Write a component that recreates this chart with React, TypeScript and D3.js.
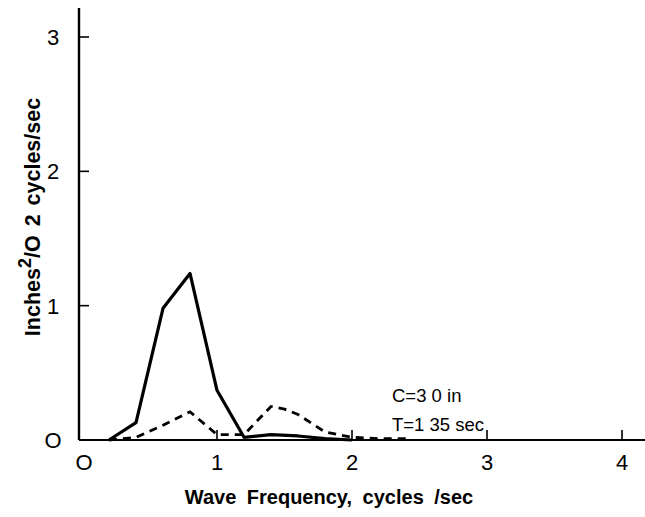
import { useEffect, useRef } from "react";
import * as d3 from "d3";

const W = 645;
const H = 517;

// wave frequency, cycles/sec
const FREQ_SOLID = [0.2, 0.4, 0.6, 0.8, 1.0, 1.2, 1.4, 1.6, 1.8, 2.0];
const SOLID = [0.0, 0.13, 0.98, 1.24, 0.37, 0.02, 0.04, 0.03, 0.01, 0.0];

const FREQ_DASH = [0.2, 0.4, 0.6, 0.8, 1.0, 1.2, 1.4, 1.5, 1.6, 1.8, 2.0, 2.2, 2.4];
const DASH = [0.0, 0.02, 0.11, 0.21, 0.04, 0.04, 0.25, 0.23, 0.19, 0.06, 0.02, 0.01, 0.01];

const X_TICKS = [0, 1, 2, 3, 4];
const Y_TICKS = [0, 1, 2, 3];

const FONT = "'Liberation Sans', Arial, sans-serif";

export default function App() {
  const ref = useRef<SVGSVGElement>(null);

  useEffect(() => {
    const svg = d3.select(ref.current);
    svg.selectAll("*").remove();

    const x = d3.scaleLinear().domain([0, 4.2]).range([82, 649]);
    const y = d3.scaleLinear().domain([0, 3]).range([440, 37]);

    const g = svg.append("g");

    // axes frame
    g.append("line")
      .attr("x1", 79).attr("x2", 79)
      .attr("y1", 8).attr("y2", y(0))
      .attr("stroke", "#000").attr("stroke-width", 2.4);
    g.append("line")
      .attr("x1", 79).attr("x2", W)
      .attr("y1", y(0)).attr("y2", y(0))
      .attr("stroke", "#000").attr("stroke-width", 2.2);

    // ticks, pointing inward
    g.selectAll(".ytick")
      .data(Y_TICKS.filter((d) => d > 0))
      .join("line")
      .attr("x1", 79).attr("x2", 89)
      .attr("y1", (d) => y(d)).attr("y2", (d) => y(d))
      .attr("stroke", "#000").attr("stroke-width", 1.6);
    g.selectAll(".xtick")
      .data(X_TICKS.filter((d) => d > 0))
      .join("line")
      .attr("x1", (d) => x(d)).attr("x2", (d) => x(d))
      .attr("y1", y(0)).attr("y2", y(0) - 10)
      .attr("stroke", "#000").attr("stroke-width", 1.6);

    g.selectAll(".ylab")
      .data(Y_TICKS)
      .join("text")
      .attr("x", 53)
      .attr("y", (d) => y(d))
      .attr("dy", "0.36em")
      .attr("text-anchor", "middle")
      .attr("font-family", FONT)
      .attr("font-size", 22)
      .text((d) => (d === 0 ? "O" : String(d)));

    g.selectAll(".xlab")
      .data(X_TICKS)
      .join("text")
      .attr("x", (d) => x(d) + (d === 0 ? 2 : 0))
      .attr("y", 470)
      .attr("text-anchor", "middle")
      .attr("font-family", FONT)
      .attr("font-size", 22)
      .text((d) => (d === 0 ? "O" : String(d)));

    // series
    const line = d3
      .line<[number, number]>()
      .x((d) => x(d[0]))
      .y((d) => y(d[1]));

    g.append("path")
      .attr("d", line(FREQ_SOLID.map((f, i) => [f, SOLID[i]])))
      .attr("fill", "none")
      .attr("stroke", "#000")
      .attr("stroke-width", 3.2)
      .attr("stroke-linejoin", "round");

    g.append("path")
      .attr("d", line(FREQ_DASH.map((f, i) => [f, DASH[i]])))
      .attr("fill", "none")
      .attr("stroke", "#000")
      .attr("stroke-width", 2.8)
      .attr("stroke-dasharray", "8,6");

    // annotation
    g.append("text")
      .attr("x", 392).attr("y", 402)
      .attr("font-family", FONT).attr("font-size", 18.5)
      .text("C=3 0 in");
    g.append("text")
      .attr("x", 392).attr("y", 431)
      .attr("font-family", FONT).attr("font-size", 18.5)
      .text("T=1 35 sec");

    // axis titles
    g.append("text")
      .attr("x", 329).attr("y", 504)
      .attr("text-anchor", "middle")
      .attr("font-family", FONT).attr("font-size", 20).attr("font-weight", 700)
      .attr("word-spacing", 5)
      .text("Wave  Frequency,  cycles /sec");

    const yt = g.append("text")
      .attr("transform", "translate(40,217) rotate(-90)")
      .attr("text-anchor", "middle")
      .attr("font-family", FONT).attr("font-size", 21.5).attr("font-weight", 700)
      .attr("word-spacing", 3);
    yt.append("tspan").text("Inches");
    yt.append("tspan").attr("dy", -9).attr("font-size", 18).text("2");
    yt.append("tspan").attr("dy", 9).text("/O 2 cycles/sec");
  }, []);

  return (
    <svg
      ref={ref}
      width={W}
      height={H}
      viewBox={`0 0 ${W} ${H}`}
      style={{ position: "absolute", left: 0, top: 0, background: "#fff" }}
    />
  );
}
